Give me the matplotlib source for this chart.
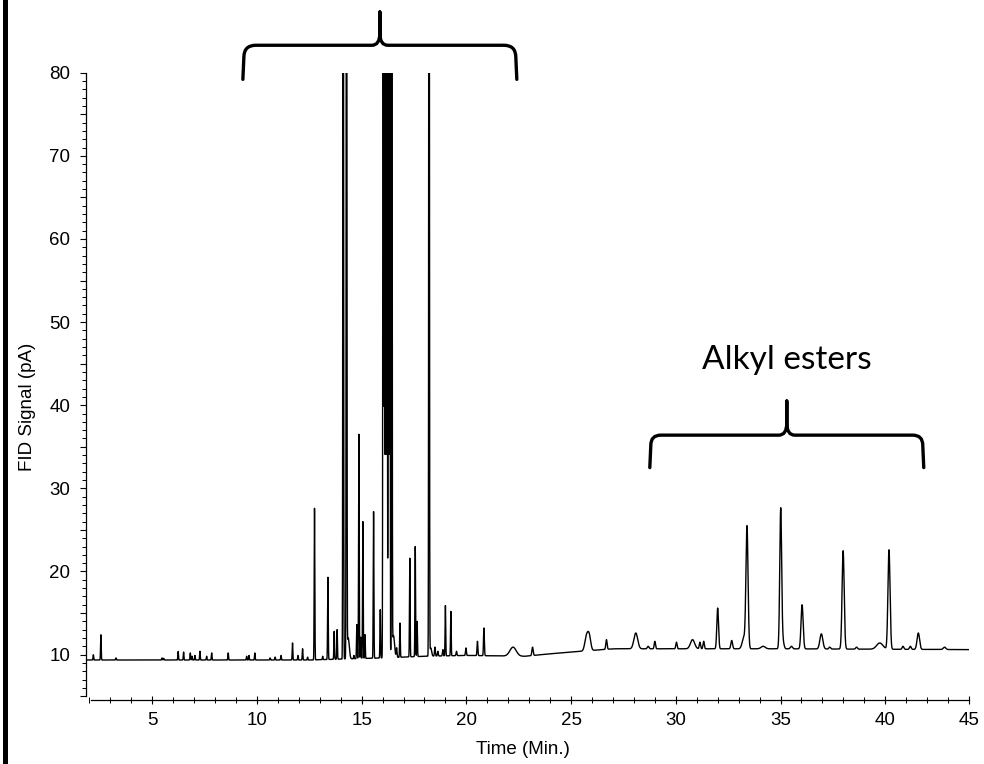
import numpy as np
import matplotlib
matplotlib.use("Agg")
import matplotlib.pyplot as plt
from matplotlib.path import Path
from matplotlib.patches import PathPatch, Rectangle

plt.rcParams['font.family'] = ['Liberation Sans', 'DejaVu Sans']

# peak table: retention time (min), apex signal (pA), width (sigma, min)
peak_time = [2.19, 2.55, 3.27, 5.47, 5.55, 6.24, 6.50, 6.82, 6.90, 7.04,
             7.28, 7.60, 7.84, 8.63, 9.51, 9.62, 9.90, 10.63, 10.87, 11.15,
             11.70, 11.96, 12.18, 12.42, 12.75, 13.14, 13.39, 13.69, 13.83, 14.12,
             14.28, 14.36, 14.63, 14.77, 14.87, 14.96, 15.06, 15.16, 15.57, 15.89,
             16.03, 16.09, 16.15, 16.21, 16.28, 16.34, 16.44, 16.52, 16.67, 16.83,
             17.30, 17.56, 17.65, 18.22, 18.30, 18.50, 18.64, 18.88, 19.00, 19.26,
             19.53, 19.98, 20.53, 20.84, 22.23, 23.16, 25.74, 25.87, 26.69, 28.09,
             28.68, 29.00, 30.03, 30.80, 31.15, 31.33, 32.00, 32.67, 33.25, 33.40,
             34.17, 35.01, 35.12, 35.52, 36.03, 36.95, 37.35, 37.99, 38.63, 39.74,
             40.18, 40.85, 41.20, 41.58, 42.83]
peak_apex = [9.98, 12.38, 9.6, 9.6, 9.55, 10.37, 10.3, 10.2, 9.8, 9.9,
             10.4, 9.8, 10.2, 10.2, 9.8, 9.9, 10.2, 9.6, 9.7, 9.9,
             11.4, 9.9, 10.7, 9.7, 27.6, 9.8, 19.3, 12.8, 13.0, 150,
             150, 12.0, 9.9, 13.6, 36.5, 12.1, 26.0, 12.4, 27.2, 15.4,
             150, 100, 100, 100, 100, 100, 150, 12.3, 10.8, 13.8,
             21.6, 23.0, 14.0, 150, 10.8, 10.9, 10.4, 10.6, 15.9, 15.2,
             10.4, 10.8, 11.6, 13.2, 10.9, 10.9, 12.2, 12.1, 11.8, 12.6,
             11.0, 11.6, 11.5, 11.8, 11.5, 11.6, 15.6, 11.7, 12.0, 25.3,
             11.0, 27.6, 11.5, 11.0, 16.0, 12.5, 10.9, 22.5, 10.9, 11.4,
             22.6, 11.0, 11.0, 12.6, 10.9]
peak_width = [0.015, 0.015, 0.015, 0.015, 0.015, 0.015, 0.015, 0.015, 0.015, 0.015,
              0.015, 0.015, 0.015, 0.015, 0.015, 0.015, 0.015, 0.015, 0.015, 0.015,
              0.015, 0.015, 0.015, 0.015, 0.015, 0.015, 0.015, 0.015, 0.015, 0.015,
              0.015, 0.05, 0.015, 0.015, 0.015, 0.015, 0.015, 0.015, 0.015, 0.015,
              0.015, 0.015, 0.015, 0.015, 0.015, 0.015, 0.015, 0.05, 0.02, 0.015,
              0.015, 0.015, 0.015, 0.015, 0.04, 0.02, 0.02, 0.02, 0.015, 0.015,
              0.02, 0.02, 0.02, 0.02, 0.15, 0.03, 0.08, 0.07, 0.03, 0.09,
              0.04, 0.03, 0.03, 0.10, 0.03, 0.03, 0.04, 0.04, 0.08, 0.05,
              0.10, 0.045, 0.05, 0.05, 0.05, 0.07, 0.04, 0.05, 0.04, 0.15,
              0.05, 0.04, 0.04, 0.06, 0.06]

# baseline level read at a few times
base_time = [1.8, 12.5, 16.0, 18.0, 20.0, 22.8, 24.0, 25.0, 27.0, 35.0, 44.1]
base_level = [9.35, 9.35, 9.6, 9.8, 9.9, 9.8, 10.1, 10.3, 10.7, 10.7, 10.6]

xtick_pos = [5, 10, 15, 20, 25, 30, 35, 40, 44]
xtick_labels = ['5', '10', '15', '20', '25', '30', '35', '40', '45']
ytick_pos = list(range(5, 81, 5))

# bracket spans (min) and label
top_brace = (9.33, 22.41)
ester_brace = (28.76, 41.84)
ester_label = 'Alkyl esters'

t = np.arange(1.84, 44.0, 0.002)
base = np.interp(t, base_time, base_level)
signal = base.copy()
for tp, ap, w in zip(peak_time, peak_apex, peak_width):
    amp = ap - np.interp(tp, base_time, base_level)
    signal += amp * np.exp(-0.5 * ((t - tp) / w) ** 2)

fig = plt.figure(figsize=(9.84, 7.64), dpi=100)
ax = fig.add_axes([86 / 984, 1 - 699.5 / 764, (969 - 86) / 984, (699.5 - 72.7) / 764])
ax.plot(t, signal, color='black', lw=1.0)

ax.set_xlim(1.84, 44.0)
ax.set_ylim(4.6, 80)
for s in ['top', 'right']:
    ax.spines[s].set_visible(False)
ax.spines['left'].set_bounds(5, 80)
ax.spines['bottom'].set_bounds(2.06, 44.0)
ax.spines['left'].set_linewidth(0.9)
ax.spines['bottom'].set_linewidth(0.9)

ax.set_xticks(xtick_pos, xtick_labels)
ax.set_xticks(range(2, 45), minor=True)
ax.set_yticks(ytick_pos, [str(v) if v % 10 == 0 else '' for v in ytick_pos])
ax.set_yticks(range(5, 81), minor=True)
ax.tick_params(axis='x', which='major', direction='inout', length=6, width=0.8, pad=6, labelsize=13.5)
ax.tick_params(axis='x', which='minor', direction='inout', length=4, width=0.7)
ax.tick_params(axis='y', which='major', direction='out', length=4.5, width=0.8, pad=7, labelsize=13.5)
ax.tick_params(axis='y', which='minor', direction='out', length=2.8, width=0.7)

fig.text(27 / 984, 1 - 407 / 764, 'FID Signal (pA)', rotation=90, ha='center', va='center', fontsize=13.5)
fig.text(523 / 984, 1 - 750 / 764, 'Time (Min.)', ha='center', va='center', fontsize=13.5)


def draw_brace(ax, x0, x1, y_leg, y_bar, y_tip, r=12, c=8, hc=12):
    T = ax.transData
    L = T.transform((x0, y_leg))
    R = T.transform((x1, y_leg))
    yb = T.transform((x0, y_bar))[1]
    xm = (L[0] + R[0]) / 2
    yt = T.transform(((x0 + x1) / 2, y_tip))[1]
    verts = [(L[0], L[1]), (L[0] + 1, yb - r), (L[0] + 1, yb), (L[0] + 1 + r, yb),
             (xm - c, yb), (xm, yb), (xm, yb + hc), (xm, yt),
             (xm, yb + hc), (xm, yb), (xm + c, yb),
             (R[0] - 1 - r, yb), (R[0] - 1, yb), (R[0] - 1, yb - r), (R[0], R[1])]
    codes = [Path.MOVETO, Path.LINETO, Path.CURVE3, Path.CURVE3,
             Path.LINETO, Path.CURVE3, Path.CURVE3, Path.LINETO,
             Path.LINETO, Path.CURVE3, Path.CURVE3,
             Path.LINETO, Path.CURVE3, Path.CURVE3, Path.LINETO]
    verts = T.inverted().transform(verts)
    patch = PathPatch(Path(verts, codes), fill=False, lw=2.4, color='black',
                      transform=ax.transData, clip_on=False, capstyle='round', joinstyle='round')
    ax.add_patch(patch)


draw_brace(ax, top_brace[0], top_brace[1], 79.2, 83.3, 87.3)
draw_brace(ax, ester_brace[0], ester_brace[1], 32.5, 36.4, 40.5, r=10)
ax.text(sum(ester_brace) / 2, 44.3, ester_label, ha='center', va='baseline',
        fontsize=24, family=['Lato', 'DejaVu Sans'])

# dark strip on the left edge
fig.add_artist(Rectangle((3 / 984, 0), 4.5 / 984, 1, transform=fig.transFigure,
                         color='black', lw=0))

fig.savefig('out.png', dpi=100)
